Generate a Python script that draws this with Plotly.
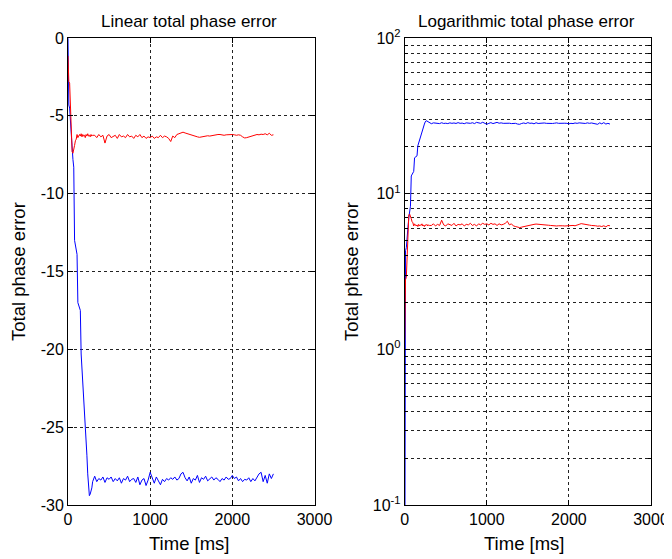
import plotly.graph_objects as go

# ── data (time in ms, phase error) ────────────────────────────────
time_ms = [
    0, 10, 20, 30, 40, 50, 60, 70, 80, 90, 100, 110, 120, 130, 140, 150,
    160, 170, 180, 190, 200, 210, 220, 230, 240, 250, 260, 270, 280, 290, 300,
    325, 350, 375, 400, 425, 450, 475, 500,
    525, 550, 575, 600, 625, 650, 675, 700,
    725, 750, 775, 800, 825, 850, 875, 900,
    925, 950, 975, 1000, 1025, 1050, 1075, 1100,
    1125, 1150, 1175, 1200, 1225, 1250, 1275, 1300,
    1325, 1350, 1375, 1400, 1425, 1450, 1475, 1500,
    1525, 1550, 1575, 1600, 1625, 1650, 1675, 1700,
    1725, 1750, 1775, 1800, 1825, 1850, 1875, 1900,
    1925, 1950, 1975, 2000, 2025, 2050, 2075, 2100,
    2125, 2150, 2175, 2200, 2225, 2250, 2275, 2300,
    2325, 2350, 2375, 2400, 2425, 2450, 2475, 2500,
]

blue_err = [
    -0.01, -4.3, -4.5, -5.6, -6.1, -7.0, -7.8, -8.3, -13.0, -13.4, -13.7, -13.9, -17.0, -17.2, -17.4, -17.5,
    -20.3, -21.2, -22.3, -23.0, -24.0, -24.4, -25.9, -26.8, -28.0, -28.9, -29.4, -29.3, -29.1, -28.9, -28.5,
    -28.15, -28.5, -28.3, -28.4, -28.2, -28.55, -28.25, -28.35,
    -28.2, -28.5, -28.3, -28.45, -28.25, -28.6, -28.3, -28.4,
    -28.15, -28.5, -28.35, -28.3, -28.55, -28.2, -28.7, -28.4,
    -28.3, -28.75, -28.4, -27.9, -28.3, -28.6, -28.2, -28.45,
    -28.7, -28.35, -28.5, -28.3, -28.4, -28.25, -28.35, -28.2,
    -28.4, -28.3, -28.0, -27.9, -28.25, -28.45, -28.2, -28.6,
    -28.3, -28.4, -28.1, -28.55, -28.25, -28.35, -28.15, -28.45,
    -28.3, -28.2, -28.4, -28.25, -28.35, -28.5, -28.3, -28.4,
    -28.2, -28.35, -28.3, -28.1, -28.3, -28.2, -28.45, -28.3,
    -28.5, -28.35, -28.4, -28.25, -28.5, -28.3, -28.45, -28.2,
    -28.0, -27.9, -28.5, -28.1, -28.6, -28.0, -28.3, -28.0,
]

red_err = [
    -1.15, -2.8, -2.9, -4.3, -6.8, -7.3, -7.4, -7.0, -6.9, -6.6, -6.5, -6.2, -6.4, -6.3, -6.2, -6.3,
    -6.15, -6.35, -6.2, -6.3, -6.25, -6.4, -6.2, -6.3, -6.15, -6.3, -6.25, -6.35, -6.2, -6.3, -6.25,
    -6.25, -6.4, -6.2, -6.35, -6.25, -6.75, -6.3, -6.2,
    -6.4, -6.3, -6.25, -6.45, -6.2, -6.35, -6.3, -6.4,
    -6.2, -6.35, -6.3, -6.45, -6.25, -6.35, -6.2, -6.4,
    -6.3, -6.45, -6.35, -6.4, -6.3, -6.45, -6.35, -6.4,
    -6.25, -6.4, -6.3, -6.35, -6.45, -6.65, -6.3, -6.4,
    -6.2, -6.15, -6.1, -6.05, -6.1, -6.15, -6.2, -6.25,
    -6.3, -6.3, -6.35, -6.38, -6.35, -6.32, -6.3, -6.28,
    -6.3, -6.27, -6.25, -6.22, -6.2, -6.2, -6.22, -6.25,
    -6.22, -6.2, -6.22, -6.2, -6.22, -6.25, -6.22, -6.25,
    -6.35, -6.42, -6.4, -6.35, -6.3, -6.28, -6.25, -6.2,
    -6.22, -6.18, -6.2, -6.15, -6.22, -6.12, -6.25, -6.22,
]

assert len(time_ms) == len(blue_err) == len(red_err)

# linear axis ticks (plain hyphen minus, as in the reference)
lin_ticks = [0, -5, -10, -15, -20, -25, -30]
lin_ticktext = ['0', '-5', '-10', '-15', '-20', '-25', '-30']

log_major = [0.1, 1, 10, 100]
log_major_text = ['10<sup>-1</sup>', '10<sup>0</sup>', '10<sup>1</sup>', '10<sup>2</sup>']
log_minor = [0.2, 0.3, 0.4, 0.5, 0.6, 0.7, 0.8, 0.9,
             2, 3, 4, 5, 6, 7, 8, 9,
             20, 30, 40, 50, 60, 70, 80, 90]

# page body has an 8px margin, so the figure is 8px smaller and positions are shifted
W, H, OFF = 664, 551, 8
def px(x):
    return (x - OFF) / W
def py(y):
    return 1 - (y - OFF) / H

FONT = 'Liberation Sans, Arial, sans-serif'
GRIDC = '#222222'
DASH = '3px,3px'
AX = dict(showgrid=True, gridcolor=GRIDC, gridwidth=1, griddash=DASH,
          showline=True, linecolor='black', linewidth=1, mirror='ticks',
          ticks='inside', ticklen=5, tickcolor='black', zeroline=False,
          automargin=False, tickfont=dict(size=16, color='black'))

fig = go.Figure()

# linear panel
fig.add_trace(go.Scatter(x=time_ms, y=blue_err, mode='lines',
                         line=dict(color='#0000ff', width=1), xaxis='x', yaxis='y'))
fig.add_trace(go.Scatter(x=time_ms, y=red_err, mode='lines',
                         line=dict(color='#ff0000', width=1), xaxis='x', yaxis='y'))

# logarithmic panel (magnitude)
fig.add_trace(go.Scatter(x=time_ms, y=[abs(v) for v in blue_err], mode='lines',
                         line=dict(color='#0000ff', width=1), xaxis='x2', yaxis='y2'))
fig.add_trace(go.Scatter(x=time_ms, y=[abs(v) for v in red_err], mode='lines',
                         line=dict(color='#ff0000', width=1), xaxis='x2', yaxis='y2'))

ydom = [py(505), py(38)]
fig.update_layout(
    width=W, height=H,
    margin=dict(l=0, r=0, t=0, b=0),
    paper_bgcolor='white', plot_bgcolor='white',
    showlegend=False,
    font=dict(family=FONT, color='black'),
    xaxis=dict(domain=[px(68), px(314.5)], range=[0, 3000], dtick=1000, anchor='y', **AX),
    yaxis=dict(domain=ydom, range=[-30, 0], anchor='x',
               tickmode='array', tickvals=lin_ticks, ticktext=lin_ticktext, **AX),
    xaxis2=dict(domain=[px(404.7), px(651)], range=[0, 3000], dtick=1000, anchor='y2', **AX),
    yaxis2=dict(domain=ydom, type='log', range=[-1, 2], anchor='x2',
                tickmode='array', tickvals=log_major, ticktext=log_major_text,
                minor=dict(tickmode='array', tickvals=log_minor, showgrid=True,
                           gridcolor=GRIDC, gridwidth=1, griddash=DASH,
                           ticks='inside', ticklen=3, tickcolor='black'),
                **AX),
)

annots = [
    dict(text='Linear total phase error', x=px(189), y=py(21), font=dict(size=17)),
    dict(text='Logarithmic total phase error', x=px(526), y=py(21), font=dict(size=17)),
    dict(text='Time [ms]', x=px(189), y=py(543), font=dict(size=18.5)),
    dict(text='Time [ms]', x=px(524.5), y=py(543), font=dict(size=18.5)),
    dict(text='Total phase error', x=px(18), y=py(272), textangle=-90, font=dict(size=18.5)),
    dict(text='Total phase error', x=px(351), y=py(272), textangle=-90, font=dict(size=18.5)),
]
for a in annots:
    fig.add_annotation(xref='paper', yref='paper', showarrow=False,
                       xanchor='center', yanchor='middle', **a)

fig.write_html('out.html')
